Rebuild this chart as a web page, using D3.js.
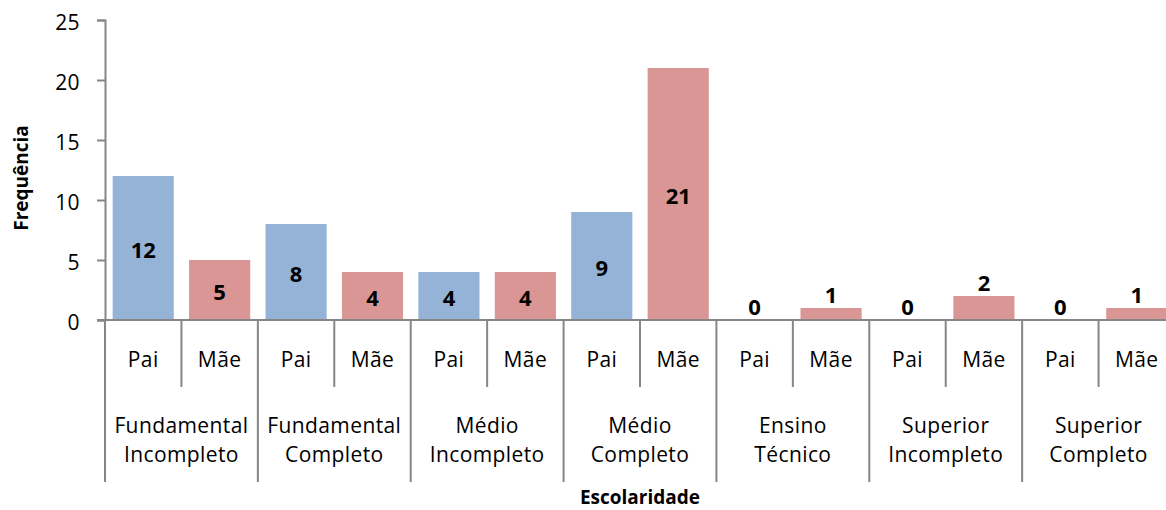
<!DOCTYPE html>
<html>
<head>
<meta charset="utf-8">
<script src="https://cdn.jsdelivr.net/npm/d3@7"></script>
<style>
  html, body { margin: 0; padding: 0; background: #fff; }
  svg { display: block; }
  text { font-family: "Open Sans", "Noto Sans", sans-serif; fill: #000; }
</style>
</head>
<body>
<svg id="chart" width="1166" height="510"></svg>
<script>
// ---- data ----
const categories = ["Fundamental Incompleto", "Fundamental Completo", "Médio Incompleto", "Médio Completo", "Ensino Técnico", "Superior Incompleto", "Superior Completo"];
const categoryLines = [["Fundamental", "Incompleto"], ["Fundamental", "Completo"], ["Médio", "Incompleto"], ["Médio", "Completo"], ["Ensino", "Técnico"], ["Superior", "Incompleto"], ["Superior", "Completo"]];
const subgroups = ["Pai", "Mãe"];
const paiValues = [12, 8, 4, 9, 0, 0, 0];
const maeValues = [5, 4, 4, 21, 1, 2, 1];
const yTicks = [0, 5, 10, 15, 20, 25];
const yTitle = "Frequência";
const xTitle = "Escolaridade";

const colors = { "Pai": "#95B3D7", "Mãe": "#D99694" };
const axisColor = "#868686";

const svg = d3.select("#chart");
const mLeft = 105, mRight = 1175, mTop = 20, mBottom = 320;
const fs = 21, ls = "0.4px";

const x0 = d3.scaleBand().domain(categories).range([mLeft, mRight]).padding(0);
const x1 = d3.scaleBand().domain(subgroups).range([0, x0.bandwidth()]).paddingInner(0.2).paddingOuter(0.1);
const xs = d3.scaleBand().domain(subgroups).range([0, x0.bandwidth()]).padding(0);
const y = d3.scaleLinear().domain([0, 25]).range([mBottom, mTop]);

const rows = [];
categories.forEach((c, i) => {
  rows.push({ cat: c, sub: "Pai", v: paiValues[i] });
  rows.push({ cat: c, sub: "Mãe", v: maeValues[i] });
});

// bars
svg.append("g").selectAll("rect").data(rows).join("rect")
  .attr("x", d => x0(d.cat) + x1(d.sub))
  .attr("y", d => y(d.v))
  .attr("width", x1.bandwidth())
  .attr("height", d => y(0) - y(d.v))
  .attr("fill", d => colors[d.sub]);

// y axis
const yAxis = svg.append("g").attr("transform", `translate(${mLeft},0)`)
  .call(d3.axisLeft(y).tickValues(yTicks).tickSize(8).tickPadding(17).tickFormat(d3.format("d")));
yAxis.select(".domain").attr("stroke", axisColor).attr("stroke-width", 2);
yAxis.selectAll(".tick line").attr("stroke", axisColor).attr("stroke-width", 2);
yAxis.selectAll(".tick text").attr("font-size", fs).attr("font-family", "Open Sans")
  .attr("letter-spacing", ls).attr("fill", "#000").attr("dy", "0.45em");

// x axis line
svg.append("line").attr("x1", mLeft - 8).attr("x2", mRight).attr("y1", y(0)).attr("y2", y(0))
  .attr("stroke", axisColor).attr("stroke-width", 2);

// group separators (long) and subgroup separators (short)
const g = svg.append("g");
categories.forEach((c, i) => {
  g.append("line").attr("x1", x0(c)).attr("x2", x0(c)).attr("y1", y(0)).attr("y2", 482)
    .attr("stroke", axisColor).attr("stroke-width", 2);
  g.append("line").attr("x1", x0(c) + xs("Mãe")).attr("x2", x0(c) + xs("Mãe")).attr("y1", y(0)).attr("y2", 387)
    .attr("stroke", axisColor).attr("stroke-width", 2);
  subgroups.forEach(s => {
    g.append("text").attr("x", x0(c) + xs(s) + xs.bandwidth() / 2).attr("y", 367)
      .attr("text-anchor", "middle").attr("font-size", fs).attr("letter-spacing", ls).text(s);
  });
  categoryLines[i].forEach((line, j) => {
    g.append("text").attr("x", x0(c) + x0.bandwidth() / 2).attr("y", 433 + j * 29)
      .attr("text-anchor", "middle").attr("font-size", fs).attr("letter-spacing", ls).text(line);
  });
});
g.append("line").attr("x1", mRight).attr("x2", mRight).attr("y1", y(0)).attr("y2", 482)
  .attr("stroke", axisColor).attr("stroke-width", 2);

// value labels
svg.append("g").selectAll("text").data(rows).join("text")
  .attr("x", d => x0(d.cat) + x1(d.sub) + x1.bandwidth() / 2)
  .attr("y", d => {
    const h = y(0) - y(d.v);
    if (h < 30) return y(d.v) - 13;
    return (y(d.v) + y(0)) / 2 + 2.5;
  })
  .attr("dy", "0.36em")
  .attr("text-anchor", "middle")
  .attr("font-size", 22)
  .attr("font-weight", "bold")
  .text(d => d.v);

// titles
svg.append("text").attr("transform", "translate(27.5,178) rotate(-90)")
  .attr("text-anchor", "middle").attr("font-size", 19).attr("font-weight", "bold").text(yTitle);
svg.append("text").attr("x", (mLeft + mRight) / 2).attr("y", 504)
  .attr("text-anchor", "middle").attr("font-size", 19).attr("font-weight", "bold").text(xTitle);
</script>
</body>
</html>
